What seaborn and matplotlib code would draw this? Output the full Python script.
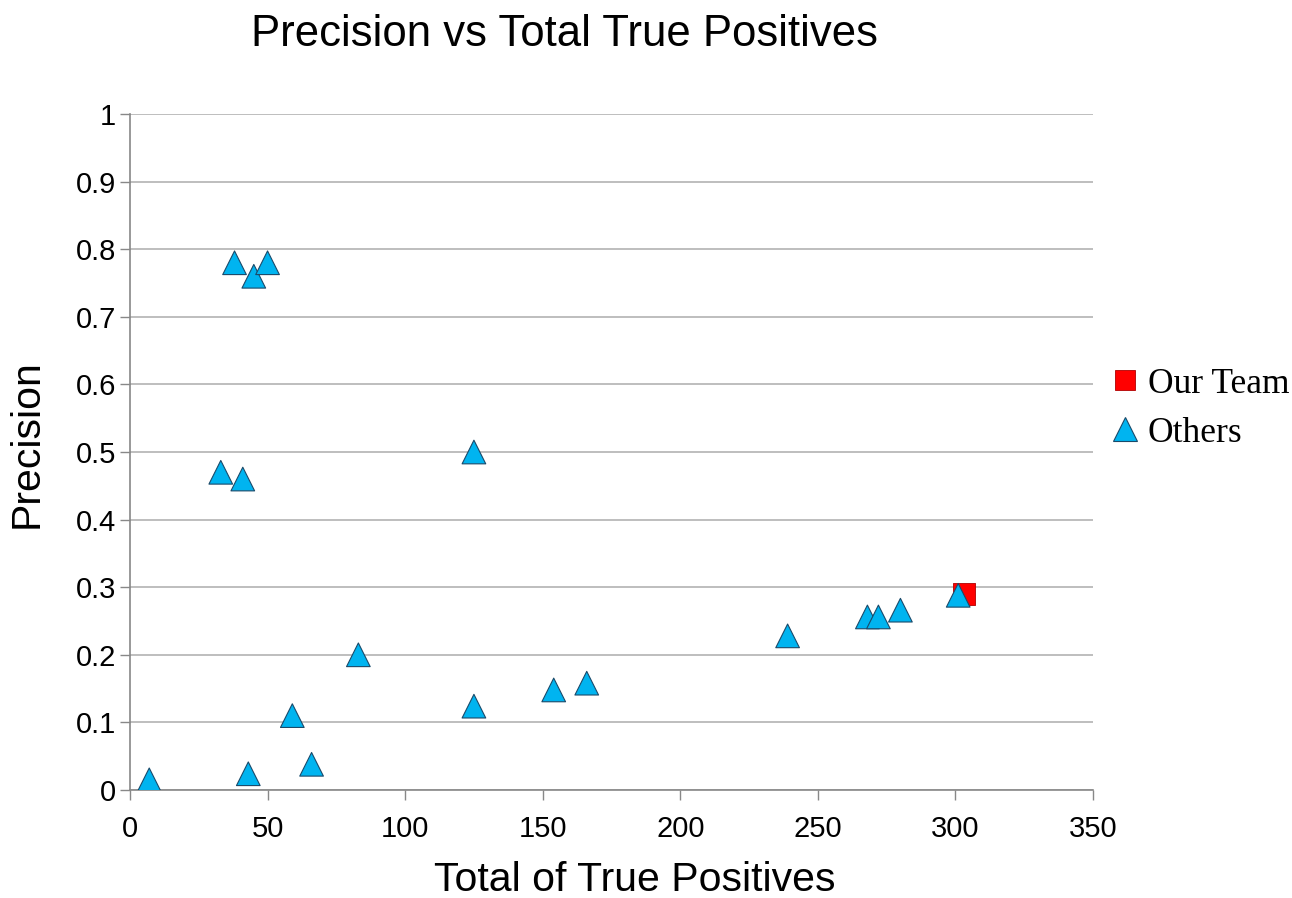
import matplotlib
matplotlib.use("Agg")
import matplotlib.pyplot as plt
import seaborn as sns
import pandas as pd

# Scores of the other teams and our own team
others_tp = [7, 33, 41, 38, 45, 50, 43, 59, 66, 83, 125, 125, 154, 166, 239, 268, 272, 280, 301]
others_precision = [0.015, 0.47, 0.46, 0.78, 0.76, 0.78, 0.024, 0.11, 0.038, 0.20, 0.50, 0.124,
                    0.148, 0.158, 0.228, 0.256, 0.256, 0.266, 0.288]
team_tp = [303]
team_precision = [0.29]

groups = ["Our Team", "Others"]
x_ticks = [0, 50, 100, 150, 200, 250, 300, 350]
y_ticks = [0, 0.1, 0.2, 0.3, 0.4, 0.5, 0.6, 0.7, 0.8, 0.9, 1]
y_tick_labels = ["0", "0.1", "0.2", "0.3", "0.4", "0.5", "0.6", "0.7", "0.8", "0.9", "1"]

df = pd.DataFrame({
    "tp": team_tp + others_tp,
    "precision": team_precision + others_precision,
    "group": ["Our Team"] * len(team_tp) + ["Others"] * len(others_tp),
})

sns.set_style("white")
plt.rcParams["font.family"] = ["Liberation Sans", "DejaVu Sans"]
plt.rcParams["text.color"] = "black"
plt.rcParams["axes.labelcolor"] = "black"

fig = plt.figure(figsize=(12.92, 8.98), dpi=100)
ax = fig.add_axes([0.1006, 0.1203, 0.7454, 0.7527])

palette = {"Our Team": "#ff0000", "Others": "#00b4f0"}
markers = {"Our Team": "s", "Others": "^"}

# draw the team square first so the triangles sit on top
sns.scatterplot(data=df[df.group == "Our Team"], x="tp", y="precision", hue="group",
                style="group", palette=palette, markers=markers, s=260,
                edgecolor="#b00000", linewidth=0.6, ax=ax, legend=False, zorder=3)
sns.scatterplot(data=df[df.group == "Others"], x="tp", y="precision", hue="group",
                style="group", palette=palette, markers=markers, s=290,
                edgecolor="#1a4a6a", linewidth=0.8, ax=ax, legend=False, zorder=4)

ax.set_xlim(0, 350)
ax.set_ylim(0, 1)
ax.set_xticks(x_ticks)
ax.set_yticks(y_ticks)
ax.set_yticklabels(y_tick_labels)
ax.tick_params(axis="both", labelsize=21, colors="#888888", labelcolor="black",
               length=7, width=1, direction="out", left=True, bottom=True)
ax.tick_params(axis="y", pad=3)
ax.tick_params(axis="x", pad=11)
ax.yaxis.grid(True, color="#b3b3b3", linewidth=1.2)
ax.xaxis.grid(False)
for side in ["top", "right"]:
    ax.spines[side].set_visible(False)
for side in ["left", "bottom"]:
    ax.spines[side].set_color("#888888")
    ax.spines[side].set_linewidth(1.2)

ax.set_xlabel("Total of True Positives", fontsize=29.5)
ax.set_ylabel("Precision", fontsize=29.5)
ax.xaxis.set_label_coords(0.524, -0.105)
ax.yaxis.set_label_coords(-0.088, 0.513)
fig.text(0.437, 0.962, "Precision vs Total True Positives", fontsize=31.5,
         ha="center", va="center")

handles = [
    plt.Line2D([], [], linestyle="none", marker="s", markersize=15,
               markerfacecolor="#ff0000", markeredgecolor="#b00000", markeredgewidth=0.6),
    plt.Line2D([], [], linestyle="none", marker="^", markersize=17,
               markerfacecolor="#00b4f0", markeredgecolor="#1a4a6a", markeredgewidth=0.8),
]
fig.legend(handles, groups, loc="center left", bbox_to_anchor=(0.846, 0.545),
           frameon=False, prop={"family": "Liberation Serif", "size": 25.5},
           handletextpad=0.15, labelspacing=0.45, handlelength=1.0, borderaxespad=0)

fig.savefig("out.png", dpi=100)
